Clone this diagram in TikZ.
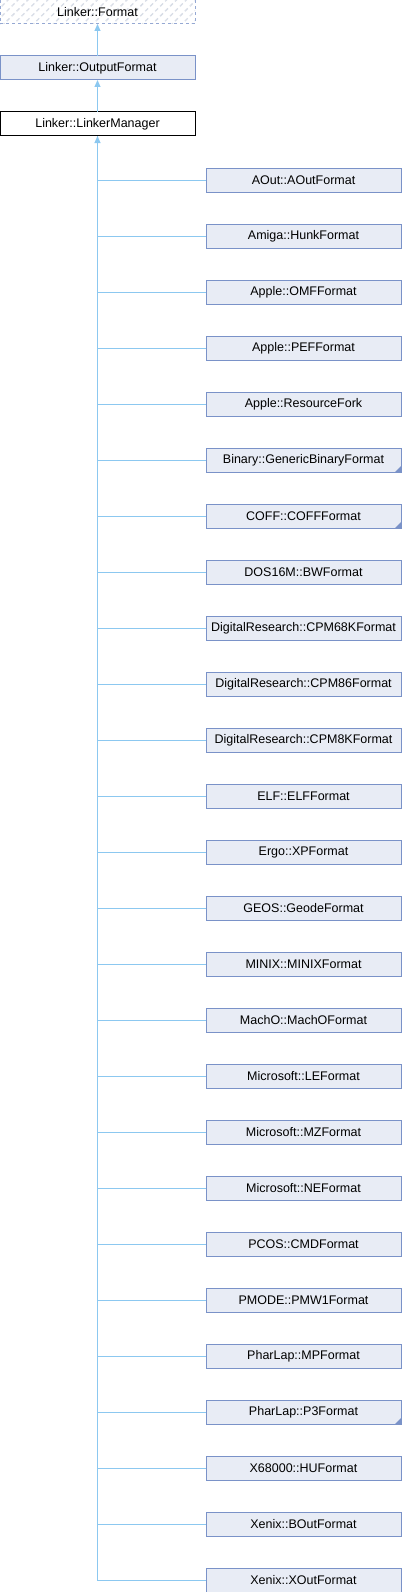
\documentclass[tikz,border=0pt]{standalone}
\usepackage{fontspec}
\setmainfont{Liberation Sans}
\usepackage{tikz}
\usetikzlibrary{positioning}
\usetikzlibrary{arrows.meta}
\usetikzlibrary{patterns.meta}

\definecolor{boxfill}{RGB}{232,236,245}
\definecolor{boxline}{RGB}{122,146,200}
\definecolor{edgeblue}{RGB}{140,200,240}
\definecolor{hatchgray}{RGB}{215,220,230}

\tikzset{
  cls/.style={draw=boxline, fill=boxfill, line width=1pt, minimum width=195pt,
    minimum height=24pt, inner sep=0pt, outer sep=0pt, font=\fontsize{12.5}{14}\selectfont},
  trunc/.style={path picture={\fill[boxline] (path picture bounding box.south east)
    -- ++(-6pt,0) -- ++(6pt,6pt) -- cycle;}},
  inh/.style={draw=edgeblue, line width=1pt, -{Triangle[width=6pt,length=7pt,fill=edgeblue]}},
  link/.style={draw=edgeblue, line width=1pt}
}

\begin{document}
\begin{tikzpicture}[x=1pt,y=1pt,node distance=32pt]
        \useasboundingbox (0,0) rectangle (402,-1592);
        % Nodes
        \node[cls, draw=boxline!80, dashed, preaction={fill=white}, pattern={Lines[angle=45,distance=7pt,line width=1.3pt]}, pattern color=hatchgray] (format) at (97.5,-12) {Linker::Format};
        \node[cls, below=of format] (output) {Linker::OutputFormat};
        \node[cls, below=of output, draw=black, fill=white] (manager) {Linker::LinkerManager};

        \node[cls] (aout) at (303.5,-180) {AOut::AOutFormat};
        \node[cls, below=of aout] (hunk) {Amiga::HunkFormat};
        \node[cls, below=of hunk] (omf) {Apple::OMFFormat};
        \node[cls, below=of omf] (pef) {Apple::PEFFormat};
        \node[cls, below=of pef] (rsrc) {Apple::ResourceFork};
        \node[cls, trunc, below=of rsrc] (binary) {Binary::GenericBinaryFormat};
        \node[cls, trunc, below=of binary] (coff) {COFF::COFFFormat};
        \node[cls, below=of coff] (bw) {DOS16M::BWFormat};
        \node[cls, below=of bw] (cpm68k) {DigitalResearch::CPM68KFormat};
        \node[cls, below=of cpm68k] (cpm86) {DigitalResearch::CPM86Format};
        \node[cls, below=of cpm86] (cpm8k) {DigitalResearch::CPM8KFormat};
        \node[cls, below=of cpm8k] (elf) {ELF::ELFFormat};
        \node[cls, below=of elf] (xp) {Ergo::XPFormat};
        \node[cls, below=of xp] (geode) {GEOS::GeodeFormat};
        \node[cls, below=of geode] (minix) {MINIX::MINIXFormat};
        \node[cls, below=of minix] (macho) {MachO::MachOFormat};
        \node[cls, below=of macho] (le) {Microsoft::LEFormat};
        \node[cls, below=of le] (mz) {Microsoft::MZFormat};
        \node[cls, below=of mz] (ne) {Microsoft::NEFormat};
        \node[cls, below=of ne] (cmd) {PCOS::CMDFormat};
        \node[cls, below=of cmd] (pmw) {PMODE::PMW1Format};
        \node[cls, below=of pmw] (mp) {PharLap::MPFormat};
        \node[cls, trunc, below=of mp] (pthree) {PharLap::P3Format};
        \node[cls, below=of pthree] (hu) {X68000::HUFormat};
        \node[cls, below=of hu] (bout) {Xenix::BOutFormat};
        \node[cls, below=of bout] (xout) {Xenix::XOutFormat};

        % Edges
        \draw[inh] (output) -- (format);
        \draw[inh] (manager) -- (output);
        \draw[link] (aout.west) -| (manager.south);
        \draw[link] (hunk.west) -| (manager.south);
        \draw[link] (omf.west) -| (manager.south);
        \draw[link] (pef.west) -| (manager.south);
        \draw[link] (rsrc.west) -| (manager.south);
        \draw[link] (binary.west) -| (manager.south);
        \draw[link] (coff.west) -| (manager.south);
        \draw[link] (bw.west) -| (manager.south);
        \draw[link] (cpm68k.west) -| (manager.south);
        \draw[link] (cpm86.west) -| (manager.south);
        \draw[link] (cpm8k.west) -| (manager.south);
        \draw[link] (elf.west) -| (manager.south);
        \draw[link] (xp.west) -| (manager.south);
        \draw[link] (geode.west) -| (manager.south);
        \draw[link] (minix.west) -| (manager.south);
        \draw[link] (macho.west) -| (manager.south);
        \draw[link] (le.west) -| (manager.south);
        \draw[link] (mz.west) -| (manager.south);
        \draw[link] (ne.west) -| (manager.south);
        \draw[link] (cmd.west) -| (manager.south);
        \draw[link] (pmw.west) -| (manager.south);
        \draw[link] (mp.west) -| (manager.south);
        \draw[link] (pthree.west) -| (manager.south);
        \draw[link] (hu.west) -| (manager.south);
        \draw[link] (bout.west) -| (manager.south);
        \draw[inh] (xout.west) -| (manager.south);
\end{tikzpicture}
\end{document}
